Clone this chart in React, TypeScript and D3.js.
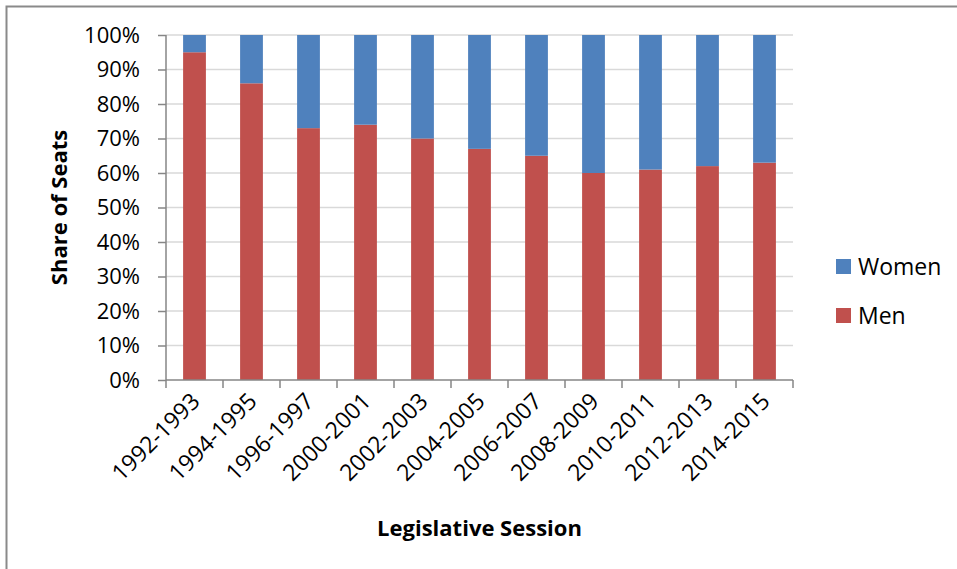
import React, { useEffect, useRef } from 'react';
import * as d3 from 'd3';

// Legislative sessions (x categories)
const sessions = [
  '1992-1993', '1994-1995', '1996-1997', '2000-2001', '2002-2003', '2004-2005',
  '2006-2007', '2008-2009', '2010-2011', '2012-2013', '2014-2015',
];

// Share of seats held by men (%) - women is the remainder
const menShare = [95, 86, 73, 74, 70, 67, 65, 60, 61, 62, 63];
const womenShare = [5, 14, 27, 26, 30, 33, 35, 40, 39, 38, 37];

const yTicks = [0, 10, 20, 30, 40, 50, 60, 70, 80, 90, 100];

const seriesNames = ['Men', 'Women'];
const colorMap: Record<string, string> = {
  Men: '#C0504D',
  Women: '#4F81BD',
};

const FONT = '"Open Sans", sans-serif';

export default function App() {
  const ref = useRef<SVGSVGElement | null>(null);

  useEffect(() => {
    const width = 957;
    const height = 569;
    const margin = { top: 35, right: 164, bottom: 189, left: 166 };
    const graphWidth = width - margin.left - margin.right;
    const graphHeight = height - margin.top - margin.bottom;

    const svg = d3.select(ref.current);
    svg.selectAll('*').remove();

    // chart frame (runs off the right and bottom edge)
    svg.append('rect')
      .attr('x', 6.5)
      .attr('y', 6.5)
      .attr('width', width + 20)
      .attr('height', height + 20)
      .attr('fill', '#fff')
      .attr('stroke', '#8a8a8a')
      .attr('stroke-width', 2);

    const content = svg.append('g')
      .attr('transform', `translate(${margin.left},${margin.top})`);

    const xScale = d3.scaleBand()
      .domain(sessions)
      .range([0, graphWidth])
      .paddingInner(0.6)
      .paddingOuter(0.3);

    const yScale = d3.scaleLinear()
      .domain([0, 100])
      .range([graphHeight, 0]);

    // gridlines
    content.append('g')
      .selectAll('line')
      .data(yTicks.filter(t => t > 0))
      .join('line')
      .attr('x1', 0)
      .attr('x2', graphWidth)
      .attr('y1', d => yScale(d))
      .attr('y2', d => yScale(d))
      .attr('stroke', '#d9d9d9')
      .attr('stroke-width', 1.5);

    // stacked bars
    const table = sessions.map((s, i) => ({ session: s, Men: menShare[i], Women: womenShare[i] }));
    const stack = d3.stack<any>().keys(seriesNames)(table);

    stack.forEach(layer => {
      content.append('g')
        .selectAll('rect')
        .data(layer)
        .join('rect')
        .attr('x', d => xScale(d.data.session)!)
        .attr('width', xScale.bandwidth())
        .attr('y', d => yScale(d[1]))
        .attr('height', d => yScale(d[0]) - yScale(d[1]))
        .attr('fill', colorMap[layer.key]);
    });

    // y axis
    const yAxis = content.append('g')
      .call(d3.axisLeft(yScale).tickValues(yTicks).tickSize(8).tickPadding(18).tickFormat(d => `${d}%`));
    yAxis.selectAll('path, line').attr('stroke', '#868686').attr('stroke-width', 1.5);
    yAxis.select('.domain').attr('d', `M0,0V${graphHeight}`);
    yAxis.selectAll('text')
      .style('font-family', FONT)
      .style('font-size', '22px')
      .attr('fill', '#000');

    // x axis with ticks at band edges
    const xAxisG = content.append('g')
      .attr('transform', `translate(0,${graphHeight})`);
    xAxisG.append('line')
      .attr('x1', 0).attr('x2', graphWidth)
      .attr('stroke', '#868686').attr('stroke-width', 1.5);
    const step = xScale.step();
    xAxisG.selectAll('line.tick')
      .data(d3.range(sessions.length + 1))
      .join('line')
      .attr('class', 'tick')
      .attr('x1', d => d * step)
      .attr('x2', d => d * step)
      .attr('y1', 0)
      .attr('y2', 8)
      .attr('stroke', '#868686')
      .attr('stroke-width', 1.5);
    xAxisG.selectAll('text')
      .data(sessions)
      .join('text')
      .attr('transform', d => `translate(${xScale(d)! + xScale.bandwidth() / 2 + 1},${17}) rotate(-45)`)
      .attr('text-anchor', 'end')
      .attr('dy', '0.35em')
      .style('font-family', FONT)
      .style('font-size', '23px')
      .attr('fill', '#000')
      .text(d => d);

    // axis titles
    svg.append('text')
      .attr('transform', `translate(67,${margin.top + graphHeight / 2}) rotate(-90)`)
      .attr('text-anchor', 'middle')
      .style('font-family', FONT)
      .style('font-size', '22px')
      .style('font-weight', 'bold')
      .text('Share of Seats');

    svg.append('text')
      .attr('x', margin.left + graphWidth / 2)
      .attr('y', 536)
      .attr('text-anchor', 'middle')
      .style('font-family', FONT)
      .style('font-size', '22px')
      .style('font-weight', 'bold')
      .text('Legislative Session');

    // legend
    const legend = svg.append('g').attr('transform', 'translate(836,259)');
    ['Women', 'Men'].forEach((name, i) => {
      const row = legend.append('g').attr('transform', `translate(0,${i * 49})`);
      row.append('rect')
        .attr('width', 15)
        .attr('height', 15)
        .attr('fill', colorMap[name]);
      row.append('text')
        .attr('x', 22)
        .attr('y', 16)
        .style('font-family', FONT)
        .style('font-size', '23px')
        .attr('fill', '#000')
        .text(name);
    });
  }, []);

  return (
    <svg
      ref={ref}
      width={957}
      height={569}
      style={{ position: 'absolute', left: 0, top: 0, background: '#fff' }}
    />
  );
}
